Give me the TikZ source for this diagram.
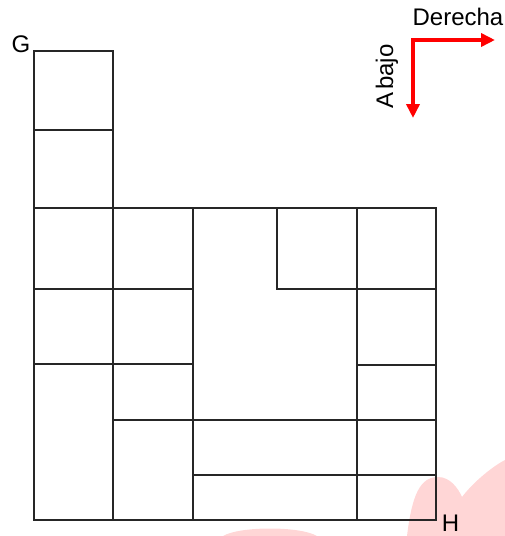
\documentclass[tikz,border=0pt]{standalone}
\usepackage{fontspec}
\setmainfont{Liberation Sans}
\usetikzlibrary{arrows.meta}
\begin{document}
\begin{tikzpicture}[x=1pt,y=-1pt,
  gridline/.style={line width=1.4pt, black!85, line cap=rect},
  lbl/.style={font=\fontsize{24}{24}\selectfont, inner sep=0pt},
  redarrow/.style={draw=red, line width=3.5pt, {Triangle[length=14pt,width=13pt]}-{Triangle[length=14pt,width=13pt]}},
  blob/.style={fill=red!16}]
\useasboundingbox (0,0) rectangle (505,536);
% faint background shapes
\fill[blob] (407,536) .. controls (412,495) and (420,477) .. (438,477) .. controls (450,477) and (458,488) .. (462,497) .. controls (475,480) and (495,465) .. (505,460) -- (505,536) -- cycle;
\fill[blob] (223,536) .. controls (240,526) and (300,526) .. (317,536) -- cycle;
% grid
\draw[gridline] (34,208) rectangle (436,520);
\draw[gridline] (34,208) -- (34,51) -- (113,51) -- (113,520);
\draw[gridline] (34,130) -- (113,130);
\draw[gridline] (193,208) -- (193,520);
\draw[gridline] (277,208) -- (277,289) -- (436,289);
\draw[gridline] (357,208) -- (357,520);
\draw[gridline] (34,289) -- (193,289);
\draw[gridline] (34,364) -- (193,364);
\draw[gridline] (357,365) -- (436,365);
\draw[gridline] (113,420) -- (436,420);
\draw[gridline] (193,475) -- (436,475);
% labels
\node[lbl] (G) at (21,44.5) {G};
\node[lbl] (H) at (450.5,523) {H};
\node[lbl] (der) at (458,16.5) {Derecha};
\node[lbl, rotate=90] (aba) at (387,76.5) {A\kern2.5pt bajo};
% direction arrows
\coordinate (corner) at (413,40);
\coordinate (right) at (495,40);
\coordinate (down) at (413,118);
\draw[redarrow] (right) -- (corner) -- (down);
\end{tikzpicture}
\end{document}
